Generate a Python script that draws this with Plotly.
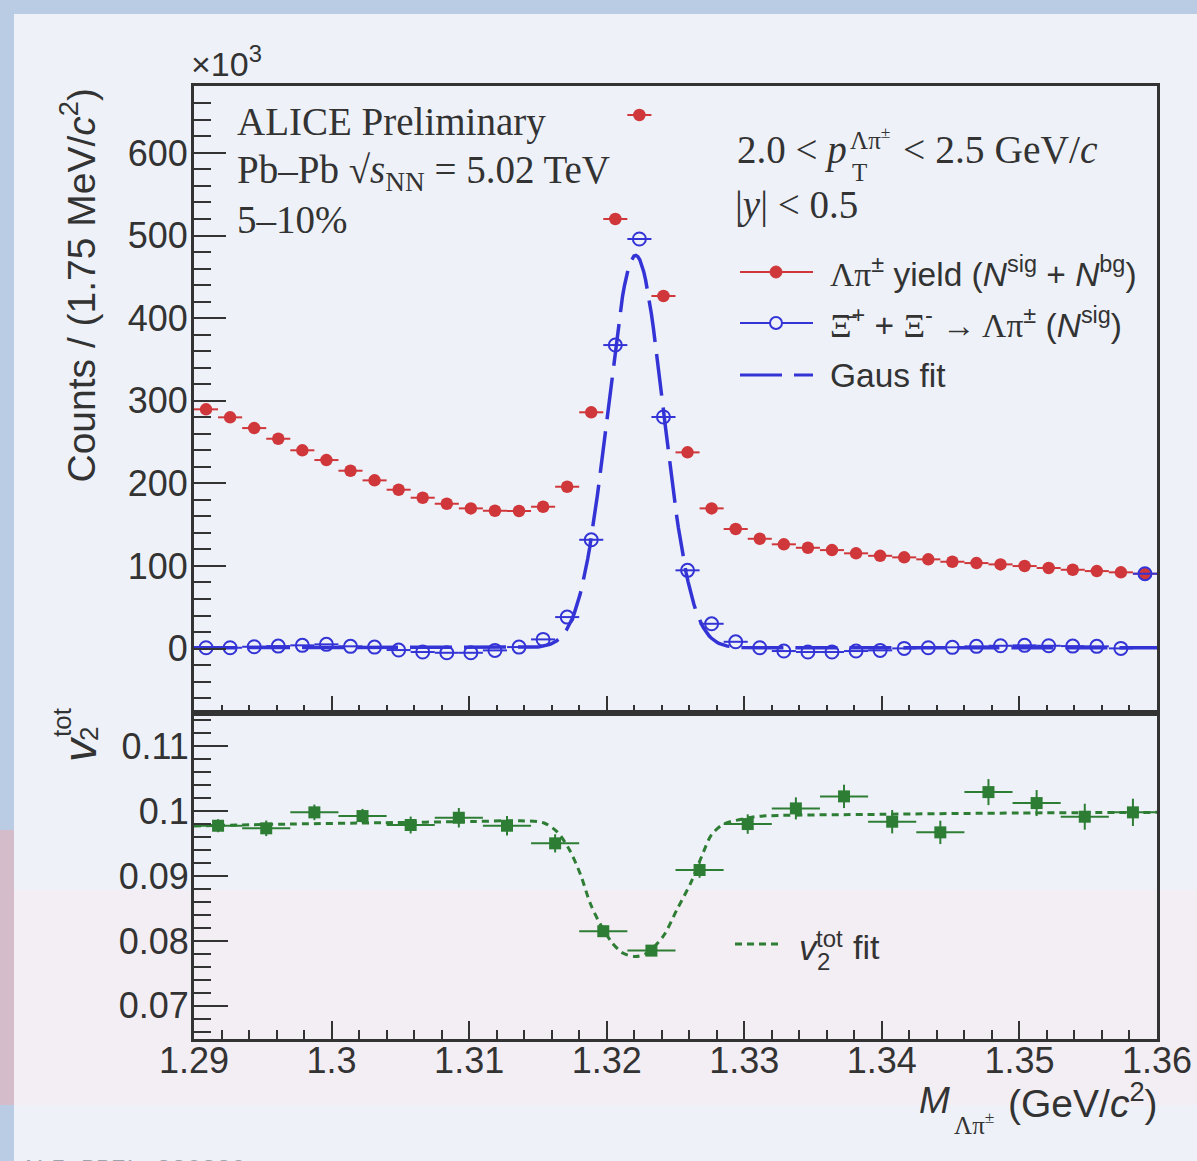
import numpy as np
import plotly.graph_objects as go

# ---------------- data ----------------
mass_bins = [1.290875, 1.292625, 1.294375, 1.296125, 1.297875, 1.299625, 1.301375, 1.303125,
             1.304875, 1.306625, 1.308375, 1.310125, 1.311875, 1.313625, 1.315375, 1.317125,
             1.318875, 1.320625, 1.322375, 1.324125, 1.325875, 1.327625, 1.329375, 1.331125,
             1.332875, 1.334625, 1.336375, 1.338125, 1.339875, 1.341625, 1.343375, 1.345125,
             1.346875, 1.348625, 1.350375, 1.352125, 1.353875, 1.355625, 1.357375, 1.359125]
bin_half_width = 0.000875

# Lambda-pi yield (N_sig + N_bg), in units of 10^3
yield_total = [289.6, 279.9, 266.9, 254.0, 240.0, 228.2, 215.3, 203.6, 192.3, 182.6,
               175.3, 169.7, 166.8, 166.5, 171.7, 195.9, 286.0, 520.0, 645.9, 426.8,
               237.5, 169.7, 144.7, 132.9, 126.2, 122.0, 119.2, 115.3, 112.3, 110.4,
               108.0, 105.1, 103.5, 101.9, 99.9, 97.5, 95.4, 93.8, 92.3, 90.6]

# Xi signal (N_sig), in units of 10^3
yield_signal = [1.0, 1.0, 2.2, 3.0, 3.9, 5.1, 2.7, 1.8, -1.8, -4.2,
                -5.1, -5.1, -2.2, 1.8, 11.1, 38.1, 131.7, 367.4, 495.8, 280.3,
                94.7, 30.0, 8.2, 1.0, -3.0, -4.2, -4.2, -3.0, -2.2, 0.2,
                1.0, 1.5, 2.7, 3.4, 3.9, 3.4, 3.0, 2.7, 0.2, 90.6]

# Gaussian fit parameters
gaus_const = 1.0
gaus_amp = 475.0
gaus_mean = 1.3221
gaus_sigma = 0.00202

# v2 total (lower panel)
v2_mass = [1.29175, 1.29525, 1.29875, 1.30225, 1.30575, 1.30925, 1.31275, 1.31625,
           1.31975, 1.32325, 1.32675, 1.33025, 1.33375, 1.33725, 1.34075, 1.34425,
           1.34775, 1.35125, 1.35475, 1.35825]
v2_half_width = 0.00175
v2_tot = [0.09774, 0.09734, 0.0998, 0.09923, 0.09785, 0.09897, 0.09774, 0.09503,
          0.08150, 0.07851, 0.09092, 0.0980, 0.10041, 0.10226, 0.09836, 0.09672,
          0.10292, 0.10123, 0.09913, 0.0998]
v2_err = [0.0010, 0.0012, 0.0012, 0.0011, 0.0013, 0.0015, 0.0015, 0.0014,
          0.0008, 0.0006, 0.0012, 0.0015, 0.0017, 0.0018, 0.0018, 0.0018,
          0.0020, 0.0020, 0.0020, 0.0021]

# v2 fit curve
v2_fit_mass = [1.2900, 1.2970, 1.3037, 1.3104, 1.3137, 1.3154, 1.3164, 1.3173, 1.3181,
               1.3188, 1.3195, 1.3204, 1.3212, 1.3221, 1.3229, 1.3241, 1.3251, 1.3261,
               1.3269, 1.3276, 1.3285, 1.3302, 1.3311, 1.3400, 1.3500, 1.3600]
v2_fit_val = [0.0977, 0.0980, 0.0982, 0.0984, 0.0985, 0.0982, 0.0968, 0.0940, 0.0902,
              0.0858, 0.0827, 0.0797, 0.0781, 0.0776, 0.0781, 0.0807, 0.0848, 0.0889,
              0.0930, 0.0963, 0.0980, 0.0989, 0.0992, 0.0995, 0.0997, 0.0998]

x_tick_vals = [1.29, 1.30, 1.31, 1.32, 1.33, 1.34, 1.35, 1.36]
x_tick_text = ["1.29", "1.3", "1.31", "1.32", "1.33", "1.34", "1.35", "1.36"]
y_tick_vals = [0, 100, 200, 300, 400, 500, 600]
y_tick_text = ["0", "100", "200", "300", "400", "500", "600"]
y2_tick_vals = [0.07, 0.08, 0.09, 0.10, 0.11]
y2_tick_text = ["0.07", "0.08", "0.09", "0.1", "0.11"]

# ---------------- style / geometry ----------------
W, H = 1197, 1161
L, R, T, B = 194, 1157, 86, 1039
SPLIT = 713
RED = "#d0373b"
BLUE = "#3434d6"
GREEN = "#2e7d34"
INK = "#333333"
SANS = "Liberation Sans, Arial, sans-serif"
SERIF = "Liberation Serif, Times New Roman, serif"


def px(x):
    return (x - L) / (R - L)


def py(y):
    return (B - y) / (B - T)


split_frac = py(SPLIT)

fig = go.Figure()

fig.add_trace(go.Scatter(
    x=mass_bins, y=yield_total, mode="markers", xaxis="x", yaxis="y",
    marker=dict(symbol="circle", size=12.5, color=RED),
    error_x=dict(type="constant", value=bin_half_width, width=0, thickness=2, color=RED),
    showlegend=False))

fig.add_trace(go.Scatter(
    x=mass_bins, y=yield_signal, mode="markers", xaxis="x", yaxis="y",
    marker=dict(symbol="circle-open", size=13, color=BLUE, line=dict(width=2, color=BLUE)),
    error_x=dict(type="constant", value=bin_half_width, width=0, thickness=2, color=BLUE),
    showlegend=False))

fit_x = np.linspace(1.29, 1.36, 500)
fit_y = gaus_const + gaus_amp * np.exp(-0.5 * ((fit_x - gaus_mean) / gaus_sigma) ** 2)
fig.add_trace(go.Scatter(
    x=fit_x, y=fit_y, mode="lines", xaxis="x", yaxis="y",
    line=dict(color=BLUE, width=3.5, dash="42px,12px"), showlegend=False))

fig.add_trace(go.Scatter(
    x=v2_fit_mass, y=v2_fit_val, mode="lines", xaxis="x2", yaxis="y2",
    line=dict(color=GREEN, width=3, dash="7px,5px", shape="spline", smoothing=0.8),
    showlegend=False))

fig.add_trace(go.Scatter(
    x=v2_mass, y=v2_tot, mode="markers", xaxis="x2", yaxis="y2",
    marker=dict(symbol="square", size=12, color=GREEN),
    error_x=dict(type="constant", value=v2_half_width, width=0, thickness=2, color=GREEN),
    error_y=dict(type="data", array=v2_err, width=0, thickness=2, color=GREEN),
    showlegend=False))

axis_common = dict(showline=True, linewidth=3, linecolor=INK, mirror=True, automargin=False,
                   showgrid=False, zeroline=False, ticks="inside", tickwidth=2,
                   tickcolor=INK, tickfont=dict(family=SANS, size=36, color=INK))

fig.update_layout(
    width=W, height=H, autosize=False,
    margin=dict(l=L, r=W - R, t=T, b=H - B, pad=0),
    paper_bgcolor="#b9cce4", plot_bgcolor="rgba(0,0,0,0)",
    showlegend=False,
    xaxis=dict(axis_common, domain=[0, 1], anchor="y", range=[1.29, 1.36],
               tickmode="array", tickvals=x_tick_vals, showticklabels=False, ticklen=17,
               minor=dict(tickmode="linear", tick0=1.29, dtick=0.002, ticks="inside",
                          ticklen=8, tickwidth=2, tickcolor=INK)),
    yaxis=dict(axis_common, domain=[split_frac, 1], anchor="x", range=[-78, 681],
               tickmode="array", tickvals=y_tick_vals, ticktext=y_tick_text, ticklen=32,
               ticklabelstandoff=-4,
               minor=dict(tickmode="linear", tick0=0, dtick=20, ticks="inside",
                          ticklen=17, tickwidth=2, tickcolor=INK)),
    xaxis2=dict(axis_common, domain=[0, 1], anchor="y2", range=[1.29, 1.36],
                tickmode="array", tickvals=x_tick_vals, ticktext=x_tick_text, ticklen=18,
                ticklabelstandoff=-12,
                minor=dict(tickmode="linear", tick0=1.29, dtick=0.002, ticks="inside",
                           ticklen=9, tickwidth=2, tickcolor=INK)),
    yaxis2=dict(axis_common, domain=[0, split_frac], anchor="x2", range=[0.0649, 0.1151],
                tickmode="array", tickvals=y2_tick_vals, ticktext=y2_tick_text, ticklen=34,
                ticklabelstandoff=-5,
                minor=dict(tickmode="linear", tick0=0.07, dtick=0.002, ticks="inside",
                           ticklen=17, tickwidth=2, tickcolor=INK)),
)

# ---------------- background (slide) ----------------
shapes = [
    dict(type="rect", xref="paper", yref="paper", x0=px(14), x1=px(W), y0=py(14), y1=py(H),
         fillcolor="#eef2f8", line=dict(width=0), layer="below"),
    dict(type="rect", xref="paper", yref="paper", x0=px(14), x1=px(W), y0=py(890), y1=py(1105),
         fillcolor="#f3eef3", line=dict(width=0), layer="below"),
    dict(type="rect", xref="paper", yref="paper", x0=px(0), x1=px(14), y0=py(830), y1=py(1105),
         fillcolor="#d4bccb", line=dict(width=0), layer="below"),
]

# ---------------- hand-drawn legend keys ----------------
LEG_X0, LEG_X1, LEG_XM = 740, 813, 776
for yy, col, dash in [(272, RED, "solid"), (323, BLUE, "solid"), (375, BLUE, "42px,12px")]:
    shapes.append(dict(type="line", xref="paper", yref="paper", x0=px(LEG_X0), x1=px(LEG_X1),
                       y0=py(yy), y1=py(yy),
                       line=dict(color=col, width=3 if dash != "solid" else 2, dash=dash)))
shapes.append(dict(type="circle", xref="paper", yref="paper", x0=px(LEG_XM - 6), x1=px(LEG_XM + 6),
                   y0=py(272 + 6), y1=py(272 - 6), fillcolor=RED, line=dict(color=RED, width=1)))
shapes.append(dict(type="circle", xref="paper", yref="paper", x0=px(LEG_XM - 6), x1=px(LEG_XM + 6),
                   y0=py(323 + 6), y1=py(323 - 6), fillcolor="#eef2f8", line=dict(color=BLUE, width=2)))
shapes.append(dict(type="line", xref="paper", yref="paper", x0=px(735), x1=px(782),
                   y0=py(944), y1=py(944), line=dict(color=GREEN, width=3, dash="7px,5px")))
fig.update_layout(shapes=shapes)


def ann(text, x, y, size, family=SANS, xa="left", ya="middle", angle=0, color=INK):
    fig.add_annotation(text=text, x=px(x), y=py(y), xref="paper", yref="paper",
                       xanchor=xa, yanchor=ya, textangle=angle, showarrow=False,
                       font=dict(family=family, size=size, color=color), borderpad=0)


SER = "<span style='font-family:Liberation Serif'>%s</span>"

# axis titles
ann("Counts / (1.75 MeV/<i>c</i><sup>2</sup>)", 78, 87, 39, xa="center", ya="top", angle=-90)
ann("×10<sup>3</sup>", 190, 84, 34, ya="bottom")
ann("<i>v</i>", 80, 763, 46, xa="center", ya="bottom", angle=-90)
ann("tot", 62, 738, 26, xa="center", ya="bottom", angle=-90)
ann("2", 89, 742, 26, xa="center", ya="bottom", angle=-90)
ann("<i>M</i>", 951, 1100, 37, xa="right")
ann("Λπ<sup>±</sup>", 953, 1123, 25, family=SERIF)
ann("(GeV/<i>c</i><sup>2</sup>)", 1159, 1100, 39, xa="right")

# left text block
ann("ALICE Preliminary", 236, 122, 39, family=SERIF)
ann("Pb–Pb √<i>s</i><sub>NN</sub> = 5.02 TeV", 236, 172, 39, family=SERIF)
ann("5–10%", 236, 219, 39, family=SERIF)

# right text block
ann("2.0 < <i>p</i>", 848, 150, 39, family=SERIF, xa="right")
ann("Λπ<sup>±</sup>", 849, 138, 25, family=SERIF)
ann("T", 851, 173, 25, family=SERIF)
ann("< 2.5 GeV/<i>c</i>", 902, 150, 39.5, family=SERIF)
ann("|<i>y</i>| < 0.5", 734, 205, 39, family=SERIF)

# legend texts
ann(SER % "Λπ" + "<sup>±</sup> yield (<i>N</i><sup>sig</sup> + <i>N</i><sup>bg</sup>)",
    829, 272, 33.5)
ann(SER % "Ξ\u0304" + "<sup>+</sup> + " + SER % "Ξ" + "<sup>-</sup> " + SER % "→ Λπ"
    + "<sup>±</sup> (<i>N</i><sup>sig</sup>)", 829, 323, 33.5)
ann("Gaus fit", 829, 375, 33.5)
ann("<i>v</i>", 798, 947, 35)
ann("tot", 815, 938, 24)
ann("2", 816, 961, 24)
ann("fit", 852, 947, 34)

# preliminary ID (partially cut at bottom edge)
ann("ALI-PREL-336330", 20, 1155, 25, family="Liberation Mono, Courier New, monospace",
    ya="top", color="#9ea4ae")

fig.write_html("out.html")
